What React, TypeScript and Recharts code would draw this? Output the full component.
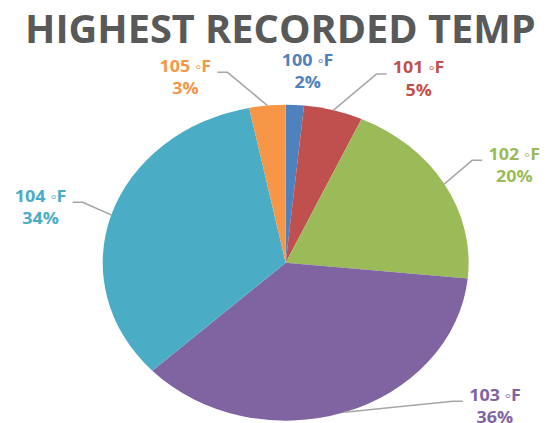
import { Cell, Pie, PieChart } from 'recharts';

// Reference image is stretched horizontally; draw at natural size and scale x.
const STRETCH = 1.158;

const categories = ['100 \u25E6F', '101 \u25E6F', '102 \u25E6F', '103 \u25E6F', '104 \u25E6F', '105 \u25E6F'];
const shares = [1.6, 5.2, 19.8, 36.4, 33.8, 3.2];
const colors = ['#4F81BD', '#C0504D', '#9BBB59', '#8064A2', '#4BACC6', '#F79646'];

// label placement relative to each slice's outer mid point (layout only)
const labelOffsets: [number, number][] = [
  [11, -39],
  [73.6, -36.7],
  [60.4, -24.3],
  [130, -11.5],
  [-61.1, -13.1],
  [-70.8, -33.8],
];
const hasLeader = [false, true, true, true, true, true];

const data = categories.map((name, i) => ({ name, value: shares[i] }));

const RAD = Math.PI / 180;

function renderLabel(props: any) {
  const { cx, cy, midAngle, outerRadius, index, percent } = props;
  const ex = cx + outerRadius * Math.cos(-midAngle * RAD);
  const ey = cy + outerRadius * Math.sin(-midAngle * RAD);
  const [dx, dy] = labelOffsets[index];
  const tx = ex + dx;
  const ty = ey + dy;
  const dir = dx > 0 ? -1 : 1;
  const color = colors[index];
  return (
    <g key={`lbl-${index}`}>
      {hasLeader[index] && (
        <polyline
          points={`${ex},${ey} ${tx + dir * 36.3},${ty + 0.5} ${tx + dir * 27.7},${ty + 0.5}`}
          fill="none"
          stroke="#A6A6A6"
          strokeWidth={1.5}
        />
      )}
      <text
        x={tx}
        y={ty}
        textAnchor="middle"
        fill={color}
        fontFamily="'Open Sans', sans-serif"
        fontWeight={700}
        fontSize={15.5}
      >
        {categories[index]}
      </text>
      <text
        x={tx}
        y={ty + 22.5}
        textAnchor="middle"
        fill={color}
        fontFamily="'Open Sans', sans-serif"
        fontWeight={700}
        fontSize={15.5}
      >
        {`${Math.round(percent * 100)}%`}
      </text>
    </g>
  );
}

export default function App() {
  return (
    <div
      style={{
        position: 'absolute',
        left: 0,
        top: 0,
        width: 473,
        height: 423,
        background: '#fff',
        transform: `scaleX(${STRETCH})`,
        transformOrigin: '0 0',
        overflow: 'hidden',
      }}
    >
      <svg width={473} height={60} style={{ position: 'absolute', left: 0, top: 0 }}>
        <text
          x={21.6}
          y={43.5}
          textLength={441}
          lengthAdjust="spacingAndGlyphs"
          fill="#595959"
          fontFamily="'Open Sans', sans-serif"
          fontWeight={700}
          fontSize={38.5}
        >
          HIGHEST RECORDED TEMP
        </text>
      </svg>
      <div style={{ position: 'absolute', left: 0, top: 0 }}>
        <PieChart width={473} height={423} margin={{ top: 0, right: 0, bottom: 0, left: 0 }}>
          <Pie
            data={data}
            dataKey="value"
            nameKey="name"
            cx={246.7}
            cy={262.7}
            outerRadius={158}
            startAngle={90}
            endAngle={-270}
            stroke="none"
            label={renderLabel}
            labelLine={false}
            isAnimationActive={false}
          >
            {data.map((d, i) => (
              <Cell key={d.name} fill={colors[i]} />
            ))}
          </Pie>
        </PieChart>
      </div>
    </div>
  );
}
